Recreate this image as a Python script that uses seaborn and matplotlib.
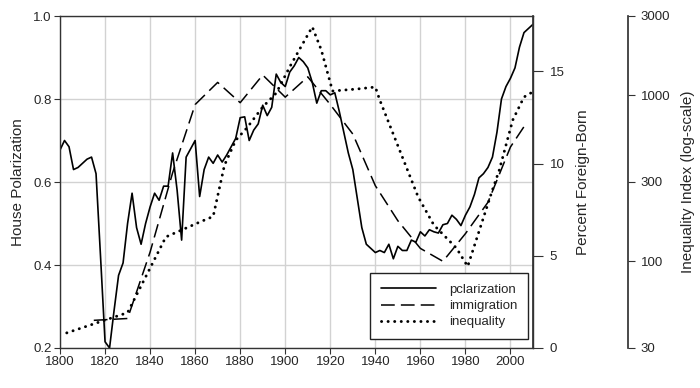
import numpy as np
import pandas as pd
import matplotlib
matplotlib.use("Agg")
import matplotlib.pyplot as plt
import seaborn as sns

# polarization (House), roughly by Congress
pol_years = [1800, 1802, 1804, 1806, 1808, 1810, 1812, 1814, 1816, 1818, 1820, 1822, 1824, 1826,
             1828, 1830, 1832, 1834, 1836, 1838, 1840, 1842, 1844, 1846, 1848, 1850, 1852, 1854,
             1856, 1858, 1860, 1862, 1864, 1866, 1868, 1870, 1872, 1874, 1876, 1878, 1880, 1882,
             1884, 1886, 1888, 1890, 1892, 1894, 1896, 1898, 1900, 1902, 1904, 1906, 1908, 1910,
             1912, 1914, 1916, 1918, 1920, 1922, 1924, 1926, 1928, 1930, 1932, 1934, 1936, 1938,
             1940, 1942, 1944, 1946, 1948, 1950, 1952, 1954, 1956, 1958, 1960, 1962, 1964, 1966,
             1968, 1970, 1972, 1974, 1976, 1978, 1980, 1982, 1984, 1986, 1988, 1990, 1992, 1994,
             1996, 1998, 2000, 2002, 2004, 2006, 2008, 2010]
pol_vals = [0.677, 0.70, 0.685, 0.63, 0.635, 0.645, 0.655, 0.66, 0.62, 0.42, 0.215, 0.20, 0.29, 0.375,
            0.405, 0.50, 0.573, 0.49, 0.45, 0.50, 0.54, 0.573, 0.556, 0.59, 0.59, 0.67, 0.58, 0.46,
            0.66, 0.68, 0.70, 0.565, 0.63, 0.66, 0.645, 0.665, 0.648, 0.665, 0.685, 0.705, 0.755, 0.757,
            0.70, 0.725, 0.74, 0.785, 0.76, 0.78, 0.86, 0.84, 0.83, 0.865, 0.88, 0.90, 0.89, 0.875,
            0.84, 0.79, 0.82, 0.82, 0.81, 0.815, 0.77, 0.72, 0.67, 0.63, 0.56, 0.49, 0.45, 0.44,
            0.43, 0.435, 0.43, 0.45, 0.415, 0.445, 0.435, 0.435, 0.46, 0.455, 0.48, 0.47, 0.485, 0.48,
            0.477, 0.497, 0.50, 0.52, 0.51, 0.495, 0.52, 0.54, 0.57, 0.61, 0.62, 0.635, 0.66, 0.72,
            0.80, 0.83, 0.85, 0.875, 0.925, 0.96, 0.97, 0.98]

# percent foreign-born
imm_years = [1815, 1830, 1840, 1850, 1860, 1870, 1880, 1890, 1900, 1910, 1920, 1930, 1940,
             1950, 1960, 1970, 1980, 1990, 2000, 2006]
imm_vals = [1.5, 1.6, 5.2, 9.5, 13.2, 14.4, 13.3, 14.8, 13.6, 14.7, 13.2, 11.6, 8.8,
            6.9, 5.4, 4.7, 6.2, 7.9, 10.9, 12.0]

# inequality index (log scale)
ineq_years = [1803, 1830, 1847, 1862, 1868, 1873, 1878, 1883, 1890, 1896, 1902, 1907, 1912,
              1916, 1921, 1932, 1940, 1942, 1959, 1966, 1976, 1981, 1992, 1995, 2001, 2006, 2009]
ineq_vals = [37, 49, 140, 172, 186, 378, 535, 636, 849, 1030, 1482, 1956, 2580,
             1875, 1060, 1090, 1120, 933, 244, 165, 120, 93, 269, 353, 708, 975, 1030]

sns.set_theme(style="white")
plt.rcParams['font.family'] = ['Liberation Sans', 'DejaVu Sans']

fig = plt.figure(figsize=(7, 3.88), dpi=100)
ax = fig.add_axes([60/700, 1-348/388, 473/700, 332/388])
ax2 = ax.twinx()
ax3 = ax.twinx()

sns.lineplot(x=pol_years, y=pol_vals, ax=ax, color='black', linewidth=1.2,
             label='pclarization', legend=False)
sns.lineplot(x=imm_years, y=imm_vals, ax=ax2, color='black', linewidth=1.1,
             linestyle=(0, (9, 4)), label='immigration', legend=False)
sns.lineplot(x=ineq_years, y=ineq_vals, ax=ax3, color='black', linewidth=2.1,
             linestyle=(0, (0.05, 2.2)), dash_capstyle='round', label='inequality', legend=False)

ax.set_xlim(1800, 2010)
ax.set_ylim(0.2, 1.0)
ax.set_xticks(range(1800, 2001, 20))
ax.set_yticks([0.2, 0.4, 0.6, 0.8, 1.0])
ax.set_yticklabels(['0.2', '0.4', '0.6', '0.8', '1.0'])
ax.grid(True, color='#d2d2d2', linewidth=1)
ax.set_ylabel('House Polarization', fontsize=11, labelpad=6)
ax.set_xlabel('')
ax.tick_params(axis='both', direction='out', length=4, width=0.8, color='#333333',
               labelsize=9.5, pad=2, bottom=True, left=True)
for s in ax.spines.values():
    s.set_color('#333333')
    s.set_linewidth(1.0)

ax2.set_ylim(0, 18)
ax2.set_yticks([0, 5, 10, 15])
ax2.set_ylabel('Percent Foreign-Born', fontsize=11, labelpad=8)
ax2.tick_params(axis='y', direction='out', length=7, width=0.8, color='#333333',
                labelsize=9.5, pad=5, right=True)
for k in ['top', 'bottom', 'left']:
    ax2.spines[k].set_visible(False)
ax2.spines['right'].set_color('#333333')

ax3.set_yscale('log')
ax3.set_ylim(30, 3000)
ax3.set_yticks([30, 100, 300, 1000, 3000])
ax3.set_yticklabels(['30', '100', '300', '1000', '3000'])
ax3.minorticks_off()
ax3.spines['right'].set_position(('axes', 568/473))
for k in ['top', 'bottom', 'left']:
    ax3.spines[k].set_visible(False)
ax3.spines['right'].set_color('#333333')
ax3.set_ylabel('Inequality Index (log-scale)', fontsize=11, labelpad=8)
ax3.tick_params(axis='y', direction='out', length=5, width=0.8, color='#333333',
                labelsize=9.5, pad=4, right=True)

handles = ax.get_lines()[:1] + ax2.get_lines()[:1] + ax3.get_lines()[:1]
leg = ax3.legend(handles, ['pclarization', 'immigration', 'inequality'],
                 loc='lower right', bbox_to_anchor=(0.99, 0.027), borderaxespad=0,
                 fontsize=9.5, handlelength=4.2, handletextpad=1.0, labelspacing=0.3,
                 borderpad=0.8, fancybox=False, framealpha=1, facecolor='white',
                 edgecolor='#222222')
leg.get_frame().set_linewidth(1.0)

fig.savefig('out.png', dpi=100)
